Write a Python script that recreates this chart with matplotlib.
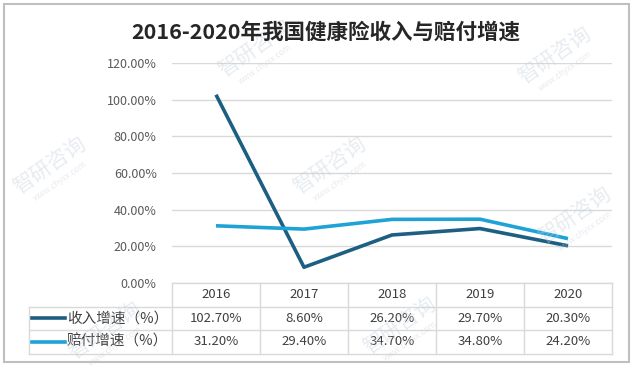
import matplotlib.pyplot as plt
from matplotlib.patches import Rectangle
from matplotlib.transforms import blended_transform_factory

plt.rcParams['font.family'] = ['Noto Sans CJK SC', 'DejaVu Sans']

years = ['2016', '2017', '2018', '2019', '2020']
income = [102.7, 8.6, 26.2, 29.7, 20.3]
claims = [31.2, 29.4, 34.7, 34.8, 24.2]
series_names = ['收入增速（%）', '赔付增速（%）']
title = '2016-2020年我国健康险收入与赔付增速'

dark = '#1D5F82'
light = '#1FA3D6'
W, H = 634, 368

fig = plt.figure(figsize=(W / 100, H / 100), dpi=100)
fig.patches.append(Rectangle((4 / W, 6 / H), 625 / W, 358 / H, transform=fig.transFigure,
                             fill=False, edgecolor='#BFBFBF', lw=1.5))

# faint watermarks (drawn first, behind everything)
marks = [(255, 48), (555, 55), (50, 165), (330, 165), (575, 215), (105, 330), (400, 325)]
for mx, my in marks:
    fig.text(mx / W, (H - my) / H, '智研咨询', rotation=35, ha='center', va='center',
             fontsize=15, color='#C3CFDB', alpha=0.4, zorder=0)
    fig.text((mx + 10) / W, (H - my - 16) / H, 'www.chyxx.com', rotation=35, ha='center', va='center',
             fontsize=6, color='#C3CFDB', alpha=0.4, zorder=0)

# plot area in pixel coords: x 172..612, y 63..283
ax = fig.add_axes([172 / W, (H - 283) / H, 440 / W, 220 / H])
ax.patch.set_alpha(0)
x = list(range(len(years)))
ax.plot(x, income, color=dark, lw=2.6, solid_capstyle='butt', zorder=3)
ax.plot(x, claims, color=light, lw=2.6, solid_capstyle='butt', zorder=3)
ax.set_xlim(-0.5, len(years) - 0.5)
ax.set_ylim(0, 120)
ax.set_yticks(range(0, 121, 20))
ax.set_yticklabels([f'{v:.2f}%' for v in range(0, 121, 20)])
ax.tick_params(axis='y', length=0, pad=11, labelsize=9, labelcolor='#595959')
ax.tick_params(axis='x', length=0, labelbottom=False)
ax.grid(axis='y', color='#D9D9D9', lw=1)
for s in ax.spines.values():
    s.set_visible(False)

fig.text(326 / W, (H - 32) / H, title, ha='center', va='center', fontsize=15.5,
         fontweight='bold', color='#262626')

# data table below the axes
tr = blended_transform_factory(ax.transData, ax.transAxes)
rh = 23.5 / 220
grid_c = '#D9D9D9'
txt_c = '#404040'
col_w = 88.0
xl = -0.5 - (172 - 29) / col_w
for i in range(1, 4):
    y = -i * rh
    ax.plot([xl, len(years) - 0.5], [y, y], transform=tr, color=grid_c, lw=1, clip_on=False)
ax.plot([xl, xl], [-rh, -3 * rh], transform=tr, color=grid_c, lw=1, clip_on=False)
for k in range(len(years) + 1):
    xv = k - 0.5
    ax.plot([xv, xv], [0, -3 * rh], transform=tr, color=grid_c, lw=1, clip_on=False)
ax.plot([-0.5, len(years) - 0.5], [0, 0], transform=tr, color=grid_c, lw=1, clip_on=False)

for i, yr in enumerate(years):
    ax.text(i, -0.5 * rh, yr, transform=tr, ha='center', va='center', fontsize=9.5, color=txt_c)
for r, (vals, col, name) in enumerate(zip([income, claims], [dark, light], series_names)):
    yc = -(1.5 + r) * rh
    for i, v in enumerate(vals):
        ax.text(i, yc, f'{v:.2f}%', transform=tr, ha='center', va='center', fontsize=9.5, color=txt_c)
    xs = -0.5 - (172 - 32) / col_w
    xe = -0.5 - (172 - 65) / col_w
    ax.plot([xs, xe], [yc, yc], transform=tr, color=col, lw=2.6, clip_on=False)
    ax.text(xe + 2 / col_w, yc, name, transform=tr, ha='left', va='center', fontsize=10.5, color=txt_c)

fig.savefig('out.png', dpi=100)
